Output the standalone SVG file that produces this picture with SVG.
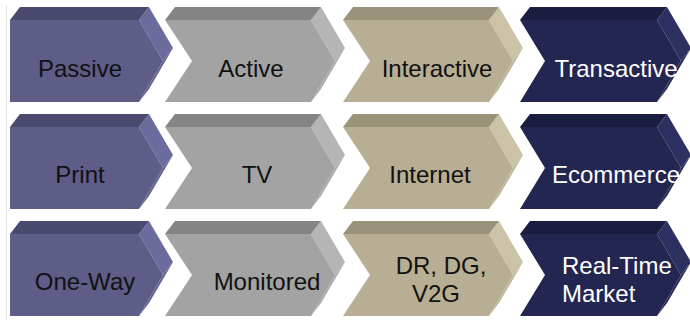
<svg xmlns="http://www.w3.org/2000/svg" width="690" height="320" viewBox="0 0 690 320">
<style>
.t{font-family:"Liberation Sans",Arial,sans-serif;font-size:24px;text-anchor:middle;fill:#111}
.w{fill:#ffffff}
.pf{fill:#5d5d88}.pt{fill:#4a4a6f}.pr{fill:#6b6b9e}.pl{fill:#63638f}
.gf{fill:#a3a3a3}.gt{fill:#848484}.gr{fill:#b5b5b5}.gl{fill:#ababab}
.tf{fill:#b8ae93}.tt{fill:#9b927a}.tr{fill:#cbc2a8}.tl{fill:#c0b69c}
.nf{fill:#232650}.nt{fill:#1b1d40}.nr{fill:#2d3162}.nl{fill:#282b58}
</style>
<rect width="690" height="320" fill="#ffffff"/>
<line x1="6.5" y1="5" x2="6.5" y2="320" stroke="#e2e2e2" stroke-width="1"/>

<!-- Row 1 -->
<g id="passive">
<polygon class="pr" points="139,20 149,7 173,48 163,61"/>
<polygon class="pl" points="163,61 173,48 149,89 139,102"/>
<polygon class="pt" points="10,20 20,7 149,7 139,20"/>
<polygon class="pf" points="10,20 139,20 163,61 139,102 10,102"/>
<text class="t" x="80" y="77">Passive</text>
</g>
<g id="active">
<polygon class="gr" points="311,20 321,7 345,48 335,61"/>
<polygon class="gl" points="335,61 345,48 321,89 311,102"/>
<polygon class="gt" points="165,20 175,7 321,7 311,20"/>
<polygon class="gf" points="165,20 311,20 335,61 311,102 165,102 192,61"/>
<text class="t" x="251" y="77">Active</text>
</g>
<g id="interactive">
<polygon class="tr" points="489,20 499,7 523,48 513,61"/>
<polygon class="tl" points="513,61 523,48 499,89 489,102"/>
<polygon class="tt" points="343,20 353,7 499,7 489,20"/>
<polygon class="tf" points="343,20 489,20 513,61 489,102 343,102 370,61"/>
<text class="t" x="437" y="77">Interactive</text>
</g>
<g id="transactive">
<polygon class="nr" points="657,20 667,7 691,48 681,61"/>
<polygon class="nl" points="681,61 691,48 667,89 657,102"/>
<polygon class="nt" points="520,20 530,7 667,7 657,20"/>
<polygon class="nf" points="520,20 657,20 681,61 657,102 520,102 545,61"/>
<text class="t w" x="616" y="77">Transactive</text>
</g>

<!-- Row 2 -->
<g id="print">
<polygon class="pr" points="139,127 149,114 173,155 163,168"/>
<polygon class="pl" points="163,168 173,155 149,196 139,209"/>
<polygon class="pt" points="10,127 20,114 149,114 139,127"/>
<polygon class="pf" points="10,127 139,127 163,168 139,209 10,209"/>
<text class="t" x="80" y="183">Print</text>
</g>
<g id="tv">
<polygon class="gr" points="311,127 321,114 345,155 335,168"/>
<polygon class="gl" points="335,168 345,155 321,196 311,209"/>
<polygon class="gt" points="165,127 175,114 321,114 311,127"/>
<polygon class="gf" points="165,127 311,127 335,168 311,209 165,209 192,168"/>
<text class="t" x="257" y="183">TV</text>
</g>
<g id="internet">
<polygon class="tr" points="489,127 499,114 523,155 513,168"/>
<polygon class="tl" points="513,168 523,155 499,196 489,209"/>
<polygon class="tt" points="343,127 353,114 499,114 489,127"/>
<polygon class="tf" points="343,127 489,127 513,168 489,209 343,209 370,168"/>
<text class="t" x="430" y="183">Internet</text>
</g>
<g id="ecommerce">
<polygon class="nr" points="657,127 667,114 691,155 681,168"/>
<polygon class="nl" points="681,168 691,155 667,196 657,209"/>
<polygon class="nt" points="520,127 530,114 667,114 657,127"/>
<polygon class="nf" points="520,127 657,127 681,168 657,209 520,209 545,168"/>
<text class="t w" x="616" y="183">Ecommerce</text>
</g>

<!-- Row 3 -->
<g id="one-way">
<polygon class="pr" points="139,234 149,221 173,262 163,275"/>
<polygon class="pl" points="163,275 173,262 149,303 139,316"/>
<polygon class="pt" points="10,234 20,221 149,221 139,234"/>
<polygon class="pf" points="10,234 139,234 163,275 139,316 10,316"/>
<text class="t" x="85" y="290">One-Way</text>
</g>
<g id="monitored">
<polygon class="gr" points="311,234 321,221 345,262 335,275"/>
<polygon class="gl" points="335,275 345,262 321,303 311,316"/>
<polygon class="gt" points="165,234 175,221 321,221 311,234"/>
<polygon class="gf" points="165,234 311,234 335,275 311,316 165,316 192,275"/>
<text class="t" x="267" y="290">Monitored</text>
</g>
<g id="dr-dg-v2g">
<polygon class="tr" points="489,234 499,221 523,262 513,275"/>
<polygon class="tl" points="513,275 523,262 499,303 489,316"/>
<polygon class="tt" points="343,234 353,221 499,221 489,234"/>
<polygon class="tf" points="343,234 489,234 513,275 489,316 343,316 370,275"/>
<text class="t" x="441" y="274">DR, DG,</text>
<text class="t" x="436" y="302">V2G</text>
</g>
<g id="real-time-market">
<polygon class="nr" points="657,234 667,221 691,262 681,275"/>
<polygon class="nl" points="681,275 691,262 667,303 657,316"/>
<polygon class="nt" points="520,234 530,221 667,221 657,234"/>
<polygon class="nf" points="520,234 657,234 681,275 657,316 520,316 545,275"/>
<text class="t w" x="562" y="274" text-anchor="start" style="text-anchor:start">Real-Time</text>
<text class="t w" x="562" y="302" style="text-anchor:start">Market</text>
</g>
<g id="connectors"></g>
</svg>
